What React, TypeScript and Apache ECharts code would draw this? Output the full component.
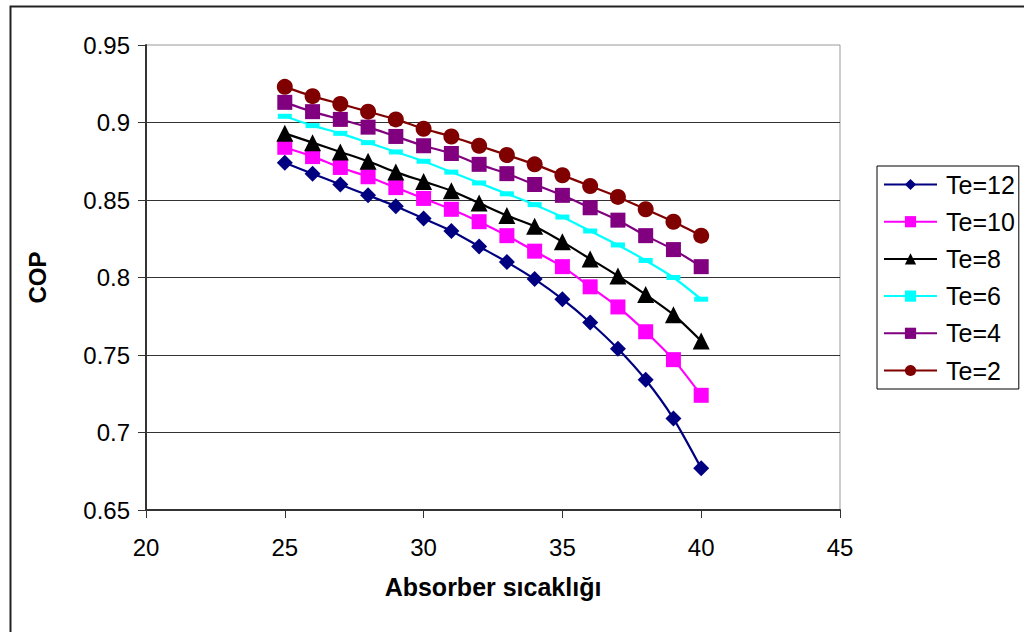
import React, { useEffect, useRef } from "react";
import * as echarts from "echarts";

const xValues = [25, 26, 27, 28, 29, 30, 31, 32, 33, 34, 35, 36, 37, 38, 39, 40];
const seriesNames = ["Te=12", "Te=10", "Te=8", "Te=6", "Te=4", "Te=2"];
const te12 = [0.874, 0.867, 0.86, 0.853, 0.846, 0.838, 0.83, 0.82, 0.81, 0.799, 0.786, 0.771, 0.754, 0.734, 0.709, 0.677];
const te10 = [0.884, 0.878, 0.871, 0.865, 0.858, 0.851, 0.844, 0.836, 0.827, 0.817, 0.807, 0.794, 0.781, 0.765, 0.747, 0.724];
const te8 = [0.893, 0.887, 0.881, 0.875, 0.868, 0.862, 0.856, 0.848, 0.84, 0.833, 0.823, 0.812, 0.801, 0.789, 0.776, 0.759];
const te6 = [0.904, 0.898, 0.893, 0.887, 0.881, 0.875, 0.868, 0.861, 0.854, 0.847, 0.839, 0.83, 0.821, 0.811, 0.8, 0.786];
const te4 = [0.913, 0.907, 0.902, 0.897, 0.891, 0.885, 0.88, 0.873, 0.867, 0.86, 0.853, 0.845, 0.837, 0.827, 0.818, 0.807];
const te2 = [0.923, 0.917, 0.912, 0.907, 0.902, 0.896, 0.891, 0.885, 0.879, 0.873, 0.866, 0.859, 0.852, 0.844, 0.836, 0.827];

const seriesValues = [te12, te10, te8, te6, te4, te2];
const colors = ["#000080", "#FF00FF", "#000000", "#00FFFF", "#800080", "#800000"];
const symbols = ["diamond", "rect", "triangle", "rect", "rect", "circle"];
const symbolSizes: any[] = [16, 15, 17, [14, 5], 15, 16];

const FONT = "Liberation Sans, Arial, sans-serif";

export default function App() {
  const ref = useRef<HTMLDivElement>(null);
  useEffect(() => {
    if (!ref.current) return;
    const chart = echarts.init(ref.current, undefined, { renderer: "svg" });
    const series = seriesNames.map((name, i) => ({
      name,
      type: "line",
      data: xValues.map((x, j) => [x, seriesValues[i][j]]),
      smooth: 0.25,
      symbol: symbols[i],
      symbolSize: symbolSizes[i],
      showSymbol: true,
      lineStyle: { color: colors[i], width: 2.2 },
      itemStyle: { color: colors[i], borderWidth: 0 },
      z: 2 + i,
    }));
    chart.setOption({
      animation: false,
      backgroundColor: "#ffffff",
      textStyle: { fontFamily: FONT },
      grid: {
        left: 146,
        right: 184,
        top: 45,
        bottom: 122,
        show: true,
        borderColor: "#999999",
        borderWidth: 1,
        backgroundColor: "transparent",
      },
      xAxis: {
        type: "value",
        min: 20,
        max: 45,
        interval: 5,
        name: "Absorber sıcaklığı",
        nameLocation: "middle",
        nameGap: 64,
        nameTextStyle: { fontSize: 25, fontWeight: "bold", color: "#000", fontFamily: FONT, verticalAlign: "top" },
        axisLine: { show: true, lineStyle: { color: "#333", width: 2 } },
        axisTick: { show: true, inside: false, length: 8, lineStyle: { color: "#333", width: 1 } },
        axisLabel: { fontSize: 24, color: "#000", margin: 25, fontFamily: FONT },
        splitLine: { show: false },
      },
      yAxis: {
        type: "value",
        min: 0.65,
        max: 0.95,
        interval: 0.05,
        name: "COP",
        nameLocation: "middle",
        nameGap: 97,
        nameRotate: 90,
        nameTextStyle: { fontSize: 24, fontWeight: "bold", color: "#000", fontFamily: FONT },
        axisLine: { show: true, lineStyle: { color: "#333", width: 2 } },
        axisTick: { show: true, inside: false, length: 8, lineStyle: { color: "#333", width: 1 } },
        axisLabel: { fontSize: 24, color: "#000", margin: 16, fontFamily: FONT },
        splitLine: { show: true, showMinLine: false, showMaxLine: false, lineStyle: { color: "#333", width: 1 } },
      },
      legend: {
        orient: "vertical",
        left: 877,
        top: 166,
        data: seriesNames,
        itemWidth: 53,
        itemHeight: 14,
        itemGap: 12.2,
        padding: [6, 4, 6, 6],
        borderColor: "#000",
        borderWidth: 1,
        backgroundColor: "#fff",
        textStyle: { fontSize: 25, lineHeight: 24, color: "#000", fontFamily: FONT, padding: [0, 0, 0, 4] },
      },
      graphic: [
        {
          type: "rect",
          left: 8,
          top: 4,
          shape: { width: 1040, height: 660 },
          style: { fill: "none", stroke: "#222", lineWidth: 2 },
          silent: true,
        },
      ],
      series,
    });
    return () => chart.dispose();
  }, []);
  return <div ref={ref} style={{ position: "fixed", left: 0, top: 0, width: 1024, height: 632 }} />;
}
